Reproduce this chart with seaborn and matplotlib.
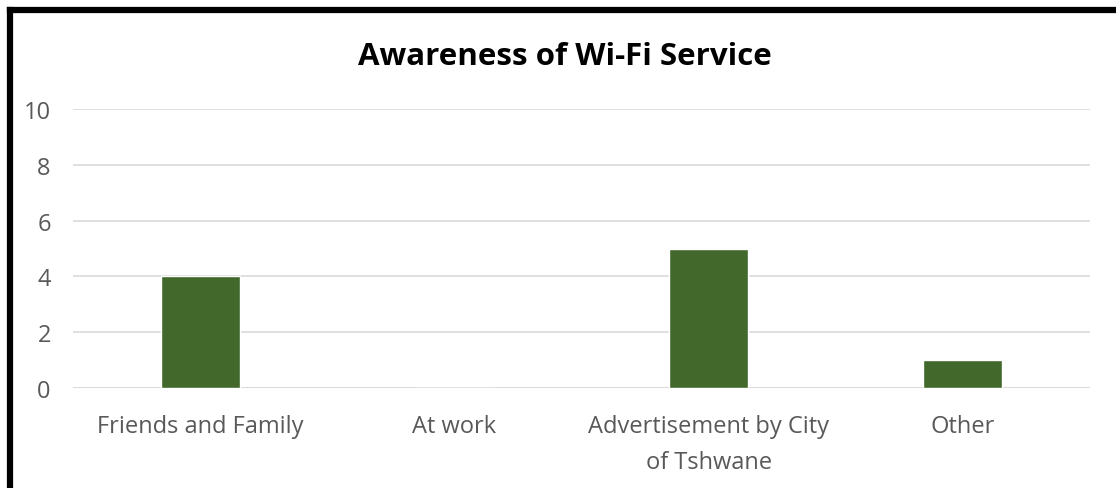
import matplotlib
matplotlib.use("Agg")
import matplotlib.pyplot as plt
import seaborn as sns
import pandas as pd
from matplotlib.lines import Line2D

categories = ["Friends and Family", "At work", "Advertisement by City\nof Tshwane", "Other"]
counts = [4, 0, 5, 1]
y_ticks = [0, 2, 4, 6, 8, 10]

df = pd.DataFrame({"source": categories, "count": counts})

sns.set_theme(style="white")
plt.rcParams["font.family"] = ["Open Sans", "DejaVu Sans"]

fig = plt.figure(figsize=(11.16, 4.89), dpi=100)
ax = fig.add_axes([73 / 1116, 1 - 389 / 489, (1090 - 73) / 1116, (389 - 110) / 489])

sns.barplot(data=df, x="source", y="count", color="#43682B", width=0.31,
            saturation=1, ax=ax, zorder=3)

ax.set_ylim(0, 10)
ax.set_xlim(-0.5, len(categories) - 0.5)
ax.set_yticks(y_ticks)
ax.yaxis.grid(True, color="#D9D9D9", linewidth=1.2, zorder=0)
ax.xaxis.grid(False)
for s in ax.spines.values():
    s.set_visible(False)
ax.axhline(0, color="#D9D9D9", linewidth=1.2, zorder=1)
ax.tick_params(axis="both", length=0, colors="#595959", labelsize=17)
ax.tick_params(axis="y", pad=16)
ax.tick_params(axis="x", pad=19)
for lbl in ax.get_xticklabels():
    lbl.set_multialignment("center")
    lbl.set_linespacing(1.65)
ax.set_xlabel("")
ax.set_ylabel("")

fig.text(565 / 1116, 1 - 57 / 489, "Awareness of Wi-Fi Service", ha="center", va="center",
         fontsize=22.5, fontweight="bold", color="black")

# frame lines along the top and left edges
fig.add_artist(Line2D([9.5 / 1116, 1], [1 - 10.5 / 489, 1 - 10.5 / 489],
                      transform=fig.transFigure, color="black", linewidth=4.5,
                      solid_capstyle="projecting"))
fig.add_artist(Line2D([9.5 / 1116, 9.5 / 1116], [0, 1 - 10.5 / 489],
                      transform=fig.transFigure, color="black", linewidth=4.5,
                      solid_capstyle="projecting"))

fig.savefig("out.png", dpi=100)
